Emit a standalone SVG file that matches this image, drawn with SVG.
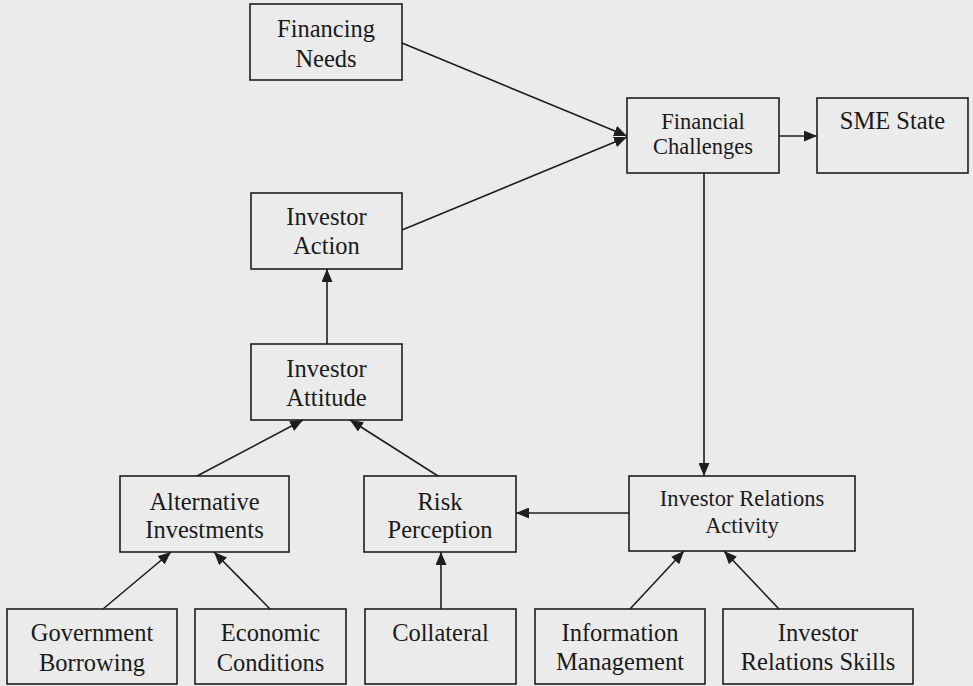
<svg xmlns="http://www.w3.org/2000/svg" width="973" height="686" viewBox="0 0 973 686">
<style>
.box{fill:none;stroke:#1e1e1e;stroke-width:1.6}
.t{font-family:"Liberation Serif","Times New Roman",serif;font-size:24.5px;fill:#1a1a1a;text-anchor:middle}
.s{font-size:22.5px}
.c{stroke:#1e1e1e;stroke-width:1.6;fill:none;marker-end:url(#ah)}
</style>
<defs>
<marker id="ah" markerUnits="userSpaceOnUse" markerWidth="13" markerHeight="11" refX="13" refY="5.5" orient="auto">
<path d="M0,0 L13,5.5 L0,11 z" fill="#1e1e1e"/>
</marker>
</defs>
<rect width="973" height="686" fill="#ebebeb"/>
<g id="connectors">
<line class="c" x1="402" y1="43" x2="627" y2="136"/>
<line class="c" x1="402" y1="230" x2="627" y2="137"/>
<line class="c" x1="779" y1="136" x2="817" y2="136"/>
<line class="c" x1="704" y1="173" x2="704" y2="476"/>
<line class="c" x1="327" y1="344" x2="327" y2="269"/>
<line class="c" x1="197" y1="476" x2="303" y2="420"/>
<line class="c" x1="438" y1="476" x2="350" y2="420"/>
<line class="c" x1="629" y1="513" x2="516" y2="513"/>
<line class="c" x1="103" y1="609" x2="171" y2="552"/>
<line class="c" x1="270" y1="609" x2="214" y2="552"/>
<line class="c" x1="441" y1="609" x2="441" y2="552"/>
<line class="c" x1="630" y1="609" x2="684" y2="551"/>
<line class="c" x1="779" y1="609" x2="724" y2="551"/>
</g>
<g id="financing-needs">
<rect class="box" x="250" y="4" width="152" height="76"/>
<text class="t" x="326" y="37">Financing</text>
<text class="t" x="326" y="67">Needs</text>
</g>
<g id="financial-challenges">
<rect class="box" x="627" y="98" width="152" height="75"/>
<text class="t s" x="703" y="129">Financial</text>
<text class="t s" x="703" y="154">Challenges</text>
</g>
<g id="sme-state">
<rect class="box" x="817" y="98" width="151" height="75"/>
<text class="t" x="892.5" y="129">SME State</text>
</g>
<g id="investor-action">
<rect class="box" x="251" y="193" width="151" height="76"/>
<text class="t" x="326.5" y="225">Investor</text>
<text class="t" x="326.5" y="254">Action</text>
</g>
<g id="investor-attitude">
<rect class="box" x="251" y="344" width="151" height="76"/>
<text class="t" x="326.5" y="377">Investor</text>
<text class="t" x="326.5" y="406">Attitude</text>
</g>
<g id="alternative-investments">
<rect class="box" x="120" y="476" width="169" height="76"/>
<text class="t" x="204.5" y="510">Alternative</text>
<text class="t" x="204.5" y="538">Investments</text>
</g>
<g id="risk-perception">
<rect class="box" x="364" y="476" width="152" height="76"/>
<text class="t" x="440" y="510">Risk</text>
<text class="t" x="440" y="538">Perception</text>
</g>
<g id="investor-relations-activity">
<rect class="box" x="629" y="476" width="226" height="75"/>
<text class="t s" x="742" y="506">Investor Relations</text>
<text class="t s" x="742" y="533">Activity</text>
</g>
<g id="government-borrowing">
<rect class="box" x="7" y="609" width="170" height="75"/>
<text class="t" x="92" y="641">Government</text>
<text class="t" x="92" y="671">Borrowing</text>
</g>
<g id="economic-conditions">
<rect class="box" x="195" y="609" width="151" height="75"/>
<text class="t" x="270.5" y="641">Economic</text>
<text class="t" x="270.5" y="671">Conditions</text>
</g>
<g id="collateral">
<rect class="box" x="365" y="609" width="151" height="75"/>
<text class="t" x="440.5" y="641">Collateral</text>
</g>
<g id="information-management">
<rect class="box" x="535" y="609" width="170" height="75"/>
<text class="t" x="620" y="641">Information</text>
<text class="t" x="620" y="670">Management</text>
</g>
<g id="investor-relations-skills">
<rect class="box" x="723" y="609" width="190" height="75"/>
<text class="t" x="818" y="641">Investor</text>
<text class="t" x="818" y="670">Relations Skills</text>
</g>
</svg>
